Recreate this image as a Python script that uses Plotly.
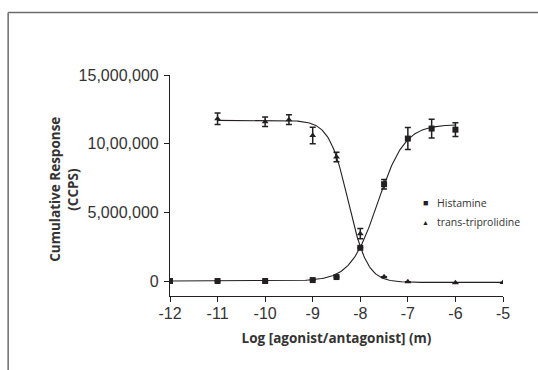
import numpy as np
import plotly.graph_objects as go

# Histamine data (agonist)
hist_x = [-12, -11, -10, -9, -8.5, -8, -7.5, -7, -6.5, -6]
hist_y = [0, 0, 0, 70000, 290000, 2420000, 7050000, 10370000, 11100000, 11020000]
hist_err = [0, 0, 0, 0, 0, 0, 350000, 800000, 680000, 500000]

# trans-triprolidine data (antagonist)
trip_x = [-11, -10, -9.5, -9, -8.5, -8, -7.5, -7, -6, -5]
trip_y = [11820000, 11600000, 11750000, 10600000, 9030000, 3450000, 310000, -50000, -120000, -100000]
trip_err = [420000, 350000, 350000, 600000, 350000, 380000, 0, 0, 0, 0]

# Fitted sigmoid parameters
hist_fit = dict(bottom=0, top=11400000, logec50=-7.633, hill=1.53, x0=-12, x1=-6)
trip_fit = dict(bottom=-100000, top=11700000, logec50=-8.253, hill=2.17, x0=-11, x1=-5)

y_tickvals = [0, 5000000, 10000000, 15000000]
y_ticktext = ["0", "5,000,000", "10,00,000", "15,000,000"]
x_tickvals = [-12, -11, -10, -9, -8, -7, -6, -5]
x_ticktext = ["-12", "-11", "-10", "-9", "-8", "-7", "-6", "-5"]


def curve(p, rising):
    xs = np.linspace(p["x0"], p["x1"], 300)
    s = 1 if rising else -1
    ys = p["bottom"] + (p["top"] - p["bottom"]) / (1 + 10 ** (s * p["hill"] * (p["logec50"] - xs)))
    return xs, ys


ink = "#231f20"
txt = "#333333"
title_font = "Open Sans, Lato, sans-serif"
fig = go.Figure()

hx, hy = curve(hist_fit, True)
tx, ty = curve(trip_fit, False)
fig.add_trace(go.Scatter(x=hx, y=hy, mode="lines", line=dict(color=ink, width=1.1),
                         showlegend=False, hoverinfo="skip"))
fig.add_trace(go.Scatter(x=tx, y=ty, mode="lines", line=dict(color=ink, width=1.1),
                         showlegend=False, hoverinfo="skip"))

fig.add_trace(go.Scatter(
    x=hist_x, y=hist_y, mode="markers", name="Histamine",
    marker=dict(symbol="square", size=6, color=ink),
    error_y=dict(type="data", array=hist_err, visible=True, color=ink, thickness=1.5, width=3),
    showlegend=False))
fig.add_trace(go.Scatter(
    x=trip_x, y=trip_y, mode="markers", name="trans-triprolidine",
    marker=dict(symbol="triangle-up", size=6, color=ink),
    error_y=dict(type="data", array=trip_err, visible=True, color=ink, thickness=1.5, width=3),
    showlegend=False))

# plot area geometry
L, R, T, B = 170, 503.3, 74.7, 296
W, H = 538, 370
pw, ph = R - L, B - T


def px(xp):
    return (xp - L) / pw


def py(yp):
    return (B - yp) / ph


fig.update_layout(
    width=W, height=H,
    margin=dict(l=L, r=W - R, t=T, b=H - B),
    paper_bgcolor="white", plot_bgcolor="white",
    font=dict(family="Liberation Sans, Arial, sans-serif", color=txt),
    xaxis=dict(range=[-12, -5], tickvals=x_tickvals, ticktext=x_ticktext,
               showline=True, linecolor=ink, linewidth=1.2, ticks="outside", ticklen=5,
               tickcolor=ink, tickwidth=1.2, showgrid=False, zeroline=False,
               tickfont=dict(size=16, color=txt), ticklabelstandoff=-2,
               title=dict(text="<b>Log [agonist/antagonist] (m)</b>",
                          font=dict(family=title_font, size=13.5, color=txt),
                          standoff=12)),
    yaxis=dict(range=[-1090000, 15000000], tickvals=y_tickvals, ticktext=y_ticktext,
               showline=True, linecolor=ink, linewidth=1.2, ticks="outside", ticklen=5,
               tickcolor=ink, tickwidth=1.2, showgrid=False, zeroline=False,
               tickfont=dict(size=16, color=txt), ticklabelstandoff=2),
    shapes=[
        dict(type="line", xref="paper", yref="paper", x0=px(8), x1=px(8), y0=py(12), y1=py(372),
             line=dict(color="#6d6d6d", width=1.5)),
        dict(type="line", xref="paper", yref="paper", x0=px(8), x1=px(540), y0=py(12), y1=py(12),
             line=dict(color="#6d6d6d", width=1.5)),
    ],
    annotations=[
        dict(text="<b>Cumulative Response</b>", textangle=-90,
             xref="paper", yref="paper", x=px(55.5), y=py(189), xanchor="center", yanchor="middle",
             showarrow=False, font=dict(family=title_font, size=13.5, color=txt)),
        dict(text="<b>(CCPS)</b>", textangle=-90,
             xref="paper", yref="paper", x=px(73.5), y=py(189), xanchor="center", yanchor="middle",
             showarrow=False, font=dict(family=title_font, size=13.5, color=txt)),
        dict(text="<span style='font-size:9px'>■</span>", xref="paper", yref="paper",
             x=px(426), y=py(203), xanchor="center", yanchor="middle", showarrow=False,
             font=dict(color=ink)),
        dict(text="Histamine", xref="paper", yref="paper", x=px(435), y=py(203),
             xanchor="left", yanchor="middle", showarrow=False,
             font=dict(family=title_font, size=10.5, color=txt)),
        dict(text="<span style='font-size:7px'>▲</span>", xref="paper", yref="paper",
             x=px(426), y=py(222), xanchor="center", yanchor="middle", showarrow=False,
             font=dict(color=ink)),
        dict(text="trans-triprolidine", xref="paper", yref="paper", x=px(435), y=py(222),
             xanchor="left", yanchor="middle", showarrow=False,
             font=dict(family=title_font, size=10.5, color=txt)),
    ],
)

fig.write_html("out.html", config={"displayModeBar": False},
               post_script="document.body.style.margin='0px';")
